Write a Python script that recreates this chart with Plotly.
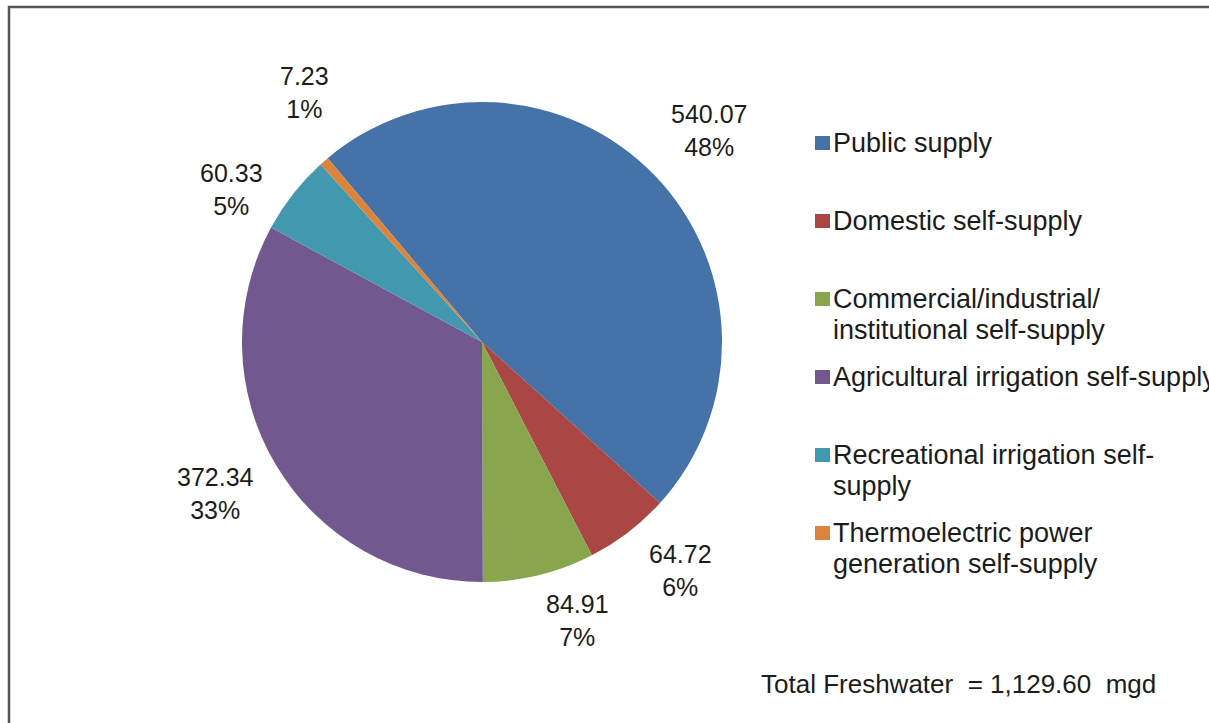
import math
import plotly.graph_objects as go

# Freshwater withdrawals by category (million gallons per day)
categories = [
    "Public supply",
    "Domestic self-supply",
    "Commercial/industrial/<br>institutional self-supply",
    "Agricultural irrigation self-supply",
    "Recreational irrigation self-<br>supply",
    "Thermoelectric power<br>generation self-supply",
]
withdrawals_mgd = [540.07, 64.72, 84.91, 372.34, 60.33, 7.23]
percent_labels = ["48%", "6%", "7%", "33%", "5%", "1%"]
slice_colors = ["#4572A7", "#AA4643", "#89A54E", "#71588F", "#4198AF", "#DB843D"]

W, H = 1209, 723
FONT = "Liberation Sans, Arial, sans-serif"
TEXT_COLOR = "#1c1c1c"


def px_x(x):
    return x / W


def px_y(y):
    return 1 - y / H


# pie placement in pixels: centre, radius and start angle (clockwise from 12 o'clock)
cx, cy, r = 482, 342, 240
start_angle = -40

fig = go.Figure(
    go.Pie(
        labels=[c.replace("<br>", " ") for c in categories],
        values=withdrawals_mgd,
        sort=False,
        direction="clockwise",
        rotation=start_angle,
        marker=dict(colors=slice_colors, line=dict(width=0)),
        textinfo="none",
        domain=dict(x=[px_x(cx - r), px_x(cx + r)], y=[px_y(cy + r), px_y(cy - r)]),
        showlegend=False,
        hoverinfo="label+value+percent",
    )
)

annotations = []
shapes = []

# data labels placed around the pie at each slice's middle angle
label_dist = 1.26 * r
label_nudge = [(9, -2), (14, -11), (24, -15), (-7, -4), (-12, 34), (21, -22)]
total = sum(withdrawals_mgd)
cum = 0.0
for v, pct, (dx, dy) in zip(withdrawals_mgd, percent_labels, label_nudge):
    mid = math.radians(start_angle + 360 * (cum + v / 2) / total)
    cum += v
    lx = cx + label_dist * math.sin(mid) + dx
    ly = cy - label_dist * math.cos(mid) + dy
    annotations.append(dict(
        xref="paper", yref="paper", x=px_x(lx), y=px_y(ly),
        xanchor="center", yanchor="middle", align="center", showarrow=False,
        text=f"{v:.2f}<br>{pct}", font=dict(family=FONT, size=25, color=TEXT_COLOR),
    ))

# legend drawn as coloured squares with labels
legend_top, legend_step, line_step = 143, 78, 31
for i, (name, color) in enumerate(zip(categories, slice_colors)):
    y_line = legend_top + i * legend_step
    shapes.append(dict(
        type="rect", xref="paper", yref="paper",
        x0=px_x(815), x1=px_x(830), y0=px_y(y_line + 7), y1=px_y(y_line - 7),
        fillcolor=color, line=dict(width=0),
    ))
    for j, part in enumerate(name.split("<br>")):
        annotations.append(dict(
            xref="paper", yref="paper", x=px_x(831), y=px_y(y_line + j * line_step),
            xanchor="left", yanchor="middle", align="left", showarrow=False,
            text=part, font=dict(family=FONT, size=27, color=TEXT_COLOR),
        ))

annotations.append(dict(
    xref="paper", yref="paper", x=px_x(759), y=px_y(684),
    xanchor="left", yanchor="middle", showarrow=False,
    text=f"Total Freshwater\u00a0 = {total:,.2f}\u00a0 mgd",
    font=dict(family=FONT, size=26, color=TEXT_COLOR),
))

# chart frame
shapes.append(dict(
    type="rect", xref="paper", yref="paper",
    x0=px_x(9), x1=px_x(W + 20), y0=px_y(H + 20), y1=px_y(7),
    line=dict(color="#555555", width=2.5), fillcolor="rgba(0,0,0,0)",
))

fig.update_layout(
    width=W, height=H,
    margin=dict(l=0, r=0, t=0, b=0),
    paper_bgcolor="white",
    plot_bgcolor="white",
    shapes=shapes,
    annotations=annotations,
)

fig.write_html("out.html")
